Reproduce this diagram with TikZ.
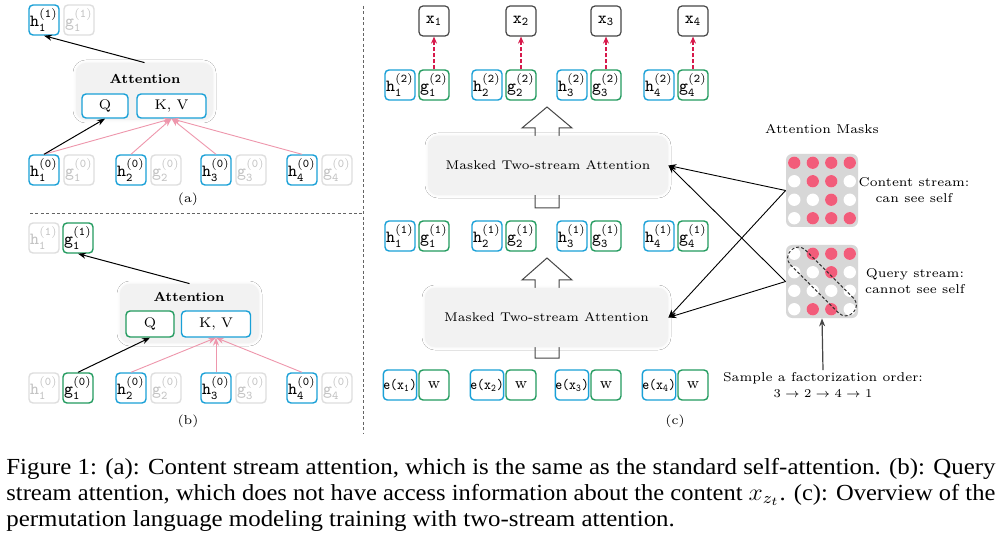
\documentclass[tikz,border=0pt]{standalone}
\usepackage{fontspec}
\usepackage{graphicx}
\newfontfamily\capfont{Liberation Serif}
\usetikzlibrary{arrows.meta,shadows.blur}
\definecolor{cblue}{RGB}{25,160,215}
\definecolor{cgreen}{RGB}{35,155,95}
\definecolor{cfade}{RGB}{222,222,222}
\definecolor{cfadetext}{RGB}{195,195,195}
\definecolor{cdark}{RGB}{70,70,70}
\definecolor{cpink}{RGB}{238,150,172}
\definecolor{cred}{RGB}{215,25,75}
\definecolor{cmask}{RGB}{215,215,215}
\definecolor{ccell}{RGB}{242,92,122}
\definecolor{cline}{RGB}{100,100,100}
\newcommand\lb[3]{$\mathtt{#1}^{(\mathtt{#3})}_{\mathtt{#2}}$}
\newcommand\capsz{\capfont\fontsize{11.5}{12.5}\selectfont}
\newcommand\capA{Figure 1: (a): Content stream attention, which is the same as the standard self-attention. (b): Query}
\newcommand\capB{stream attention, which does not have access information about the content $x_{z_t}$. (c): Overview of the}
\newcommand\capC{permutation language modeling training with two-stream attention.}
\tikzset{
 cellbox/.style={draw, rounded corners=2pt, line width=0.7pt, minimum width=15pt, minimum height=15pt, inner sep=0pt, fill=white, font=\fontsize{8.5}{9}\selectfont\ttfamily},
 hcell/.style={cellbox, draw=cblue},
 gcell/.style={cellbox, draw=cgreen},
 fcell/.style={cellbox, draw=cfade, text=cfadetext},
 xcell/.style={cellbox, draw=cdark, line width=0.6pt},
 qkv/.style={draw, rounded corners=2pt, line width=0.7pt, inner sep=0pt, fill=white, font=\fontsize{7}{8}\selectfont},
 attbg/.style={fill=black!5, rounded corners=5pt, inner sep=0pt, blur shadow={shadow xshift=0pt, shadow yshift=0pt, shadow blur radius=1.5pt, shadow opacity=6}},
 serif/.style={font=\fontsize{6.4}{8}\selectfont, inner sep=1pt},
 boldt/.style={font=\fontsize{6.5}{8}\selectfont\bfseries, inner sep=1pt},
 blk/.style={-{Stealth[length=4pt,width=3pt]}, line width=0.5pt, black},
 pnk/.style={-{Stealth[length=4pt,width=3pt]}, line width=0.45pt, cpink},
 reddash/.style={-{Stealth[length=3.5pt,width=3pt]}, line width=0.8pt, cred, dash pattern=on 2pt off 1pt},
 hollow/.style={draw=cdark, fill=white, line width=0.5pt, line join=miter},
 sepline/.style={draw=cline, line width=0.5pt, dash pattern=on 1.5pt off 1.2pt},
 maskbg/.style={fill=cmask, rounded corners=3pt, minimum width=36pt, minimum height=36.5pt, inner sep=0pt},
}
\begin{document}
\begin{tikzpicture}[x=0.5pt,y=-0.5pt]
\useasboundingbox (0,0) rectangle (1001,534);
\fill[white] (0,0) rectangle (1001,534);

% separators
\coordinate (vt) at (363,6); \coordinate (vb) at (363,433);
\draw[sepline] (vt) -- (vb);
\coordinate (hl) at (30,214); \coordinate (hr) at (363,214);
\draw[sepline] (hl) -- (hr);

% ---------- panel (a)
\node[attbg, minimum width=68.5pt, minimum height=28.5pt] (atta) at (144.5,91.5) {};
\node[boldt] (tita) at (145,79) {Attention};
\node[qkv, draw=cblue, minimum width=23pt, minimum height=12pt] (qa) at (105,106) {Q};
\node[qkv, draw=cblue, minimum width=34.5pt, minimum height=12pt] (kva) at (171.5,106) {K, V};
\node[hcell] (h1a1) at (44,20) {\lb h11};
\node[fcell] (g1a1) at (79,20) {\lb g11};
\foreach \i/\x in {1/44,2/131,3/216,4/302} {
  \node[hcell] (ha\i) at (\x,170) {\lb h\i0};
  \node[fcell] (ga\i) at (\x+35,170) {\lb g\i0};
}
\foreach \i in {1,...,4} \draw[pnk] (ha\i.north) -- (kva.south);
\draw[blk] (ha1.north) -- (qa.south);
\draw[blk] (atta.north) -- (h1a1.south);
\node[serif] (laba) at (188,199) {(a)};

% ---------- panel (b)
\node[attbg, minimum width=69.5pt, minimum height=29.5pt] (attb) at (189.5,313.5) {};
\node[boldt] (titb) at (189,297) {Attention};
\node[qkv, draw=cgreen, minimum width=24pt, minimum height=13pt] (qb) at (150,324) {Q};
\node[qkv, draw=cblue, minimum width=34.5pt, minimum height=13pt] (kvb) at (216,324) {K, V};
\node[fcell] (h1b1) at (44,238) {\lb h11};
\node[gcell] (g1b1) at (78,238) {\lb g11};
\node[fcell] (hb1) at (44,388) {\lb h10};
\node[gcell] (gb1) at (78,388) {\lb g10};
\foreach \i/\x in {2/131,3/216,4/302} {
  \node[hcell] (hb\i) at (\x,388) {\lb h\i0};
  \node[fcell] (gb\i) at (\x+35,388) {\lb g\i0};
}
\foreach \i in {2,3,4} \draw[pnk] (hb\i.north) -- (kvb.south);
\draw[blk] (gb1.north) -- (qb.south);
\draw[blk] (attb.north) -- (g1b1.south);
\node[serif] (labb) at (188,421) {(b)};

% ---------- panel (c)
\path[hollow] (535,208) -- (535,128) -- (522,128) -- (547,107) -- (572,128) -- (559,128) -- (559,208) -- cycle;
\path[hollow] (535,358) -- (535,280) -- (522,280) -- (547,258) -- (572,280) -- (559,280) -- (559,358) -- cycle;
\node[attbg, minimum width=120pt, minimum height=29.5pt, font=\fontsize{6.3}{8}\selectfont] (mta1) at (548,165.5) {Masked Two-stream Attention};
\node[attbg, minimum width=121.5pt, minimum height=29.5pt, font=\fontsize{6.3}{8}\selectfont] (mta2) at (546.5,317.5) {Masked Two-stream Attention};
\foreach \i/\x in {1/400,2/487,3/572,4/659} {
  \node[hcell] (hct\i) at (\x,85) {\lb h\i2};
  \node[gcell] (gct\i) at (\x+34,85) {\lb g\i2};
  \node[xcell] (xc\i) at (\x+34,21) {$\mathtt{x}_{\mathtt{\i}}$};
  \draw[reddash] (gct\i.north) -- (xc\i.south);
  \node[hcell] (hcm\i) at (\x,236) {\lb h\i1};
  \node[gcell] (gcm\i) at (\x+34,236) {\lb g\i1};
  \node[hcell, font=\fontsize{7.4}{8}\selectfont\ttfamily] (ec\i) at (\x,385) {\scalebox{0.88}[1]{e(x$_{\mathtt{\i}}$)}};
  \node[gcell, font=\fontsize{8}{9}\selectfont\rmfamily] (wc\i) at (\x+34,385) {w};
}
\node[serif] (labc) at (675,421) {(c)};

% ---------- masks
\node[serif] (amtitle) at (822,129) {Attention Masks};
\node[maskbg] (maskC) at (822,190.5) {};
\node[maskbg] (maskQ) at (822,281.5) {};
\foreach \r in {1,...,4} \foreach \c in {1,...,4} {
  \fill[white] (822+\c*18.5-46.25,190.5+\r*18.5-46.25) circle[radius=3.1pt];
  \fill[white] (822+\c*18.5-46.25,281.5+\r*18.5-46.25) circle[radius=3.1pt];
}
\foreach \r/\c in {1/1,1/2,1/3,1/4,2/2,2/3,3/3,4/2,4/3,4/4}
  \fill[ccell] (822+\c*18.5-46.25,190.5+\r*18.5-46.25) circle[radius=3.1pt];
\foreach \r/\c in {1/2,1/3,1/4,2/3,4/2,4/3}
  \fill[ccell] (822+\c*18.5-46.25,281.5+\r*18.5-46.25) circle[radius=3.1pt];
\node[draw=black!80, dash pattern=on 1.5pt off 1pt, line width=0.5pt, rounded corners=5pt, minimum width=44pt, minimum height=10.5pt, rotate=-45, inner sep=0pt] (diag) at (822,281.5) {};
\node[serif, align=center] (ctext) at (914,190) {Content stream:\\can see self};
\node[serif, align=center] (qtext) at (915,281.5) {Query stream:\\cannot see self};
\node[serif, align=center] (samp) at (823,385) {Sample a factorization order:\\$3\rightarrow2\rightarrow4\rightarrow1$};
\draw[-{Stealth[length=4pt,width=3pt]}, cdark, line width=0.6pt] (samp.north) -- (maskQ.south);
\draw[blk, line width=0.45pt] (maskC.west) -- (mta1.east);
\draw[blk, line width=0.45pt] (maskC.west) -- (mta2.east);
\draw[blk, line width=0.45pt] (maskQ.west) -- (mta1.east);
\draw[blk, line width=0.45pt] (maskQ.west) -- (mta2.east);

% ---------- caption
\node[anchor=base west, inner sep=0pt] (cap1) at (6,474) {\resizebox{494.5pt}{\height}{\capsz\capA}};
\node[anchor=base west, inner sep=0pt] (cap2) at (6,500) {\resizebox{494.5pt}{\height}{\capsz\capB}};
\node[anchor=base west, inner sep=0pt] (cap3) at (6,526) {\resizebox{494.5pt}{\height}{\capsz\rlap{\capC}\phantom{\capA}}};
\end{tikzpicture}
\end{document}
